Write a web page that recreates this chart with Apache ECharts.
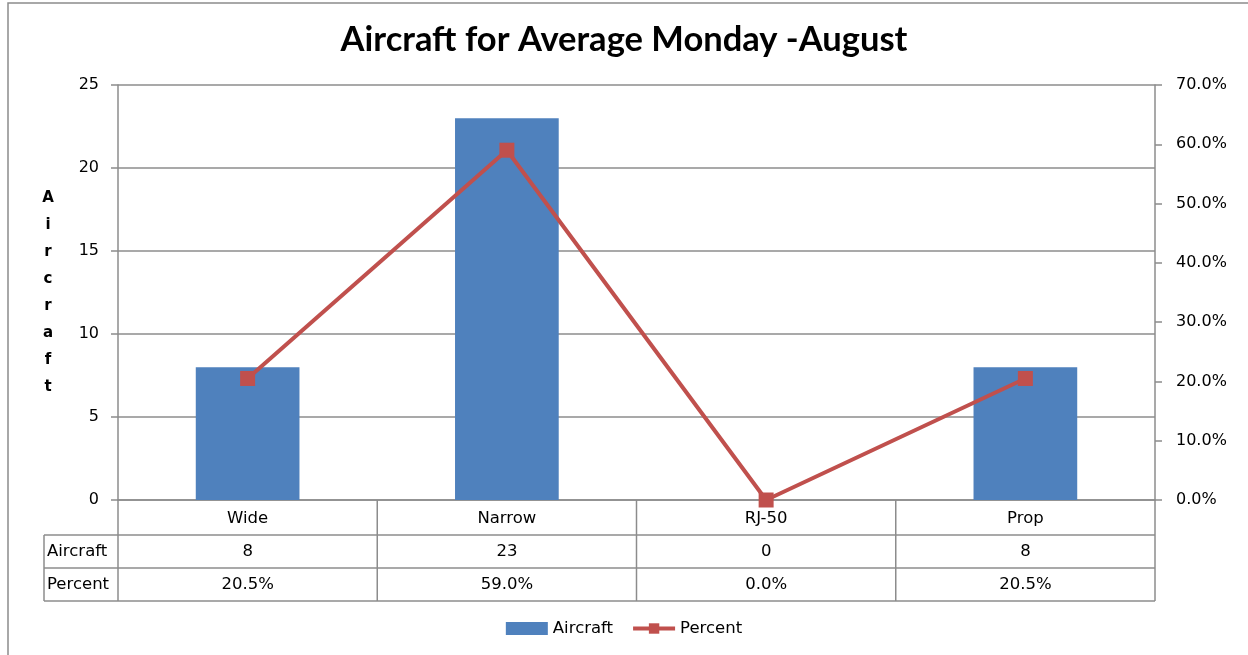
<!DOCTYPE html>
<html>
<head>
<meta charset="utf-8">
<script src="https://cdn.jsdelivr.net/npm/echarts@6/dist/echarts.min.js"></script>
<style>
html,body{margin:0;padding:0;background:#fff;}
#main{width:1248px;height:655px;}
</style>
</head>
<body>
<div id="main"></div>
<script>
const titleText = 'Aircraft for Average Monday -August';
const categories = ['Wide', 'Narrow', 'RJ-50', 'Prop'];
const aircraftValues = [8, 23, 0, 8];
const percentValues = [20.5, 59.0, 0.0, 20.5];
const leftTicks = { min: 0, max: 25, interval: 5 };
const rightTicks = { min: 0, max: 70, interval: 10 };

const FONT = 'DejaVu Sans';
const GRID = { left: 118, right: 93, top: 85, bottom: 155 };
const W = 1248, H = 655;
const plotL = GRID.left, plotR = W - GRID.right, plotB = H - GRID.bottom;
const rowH = [35, 33, 33];
const headL = 44;
const lineCol = '#8c8c8c';

const chart = echarts.init(document.getElementById('main'), null, { renderer: 'canvas' });

const option = {
  animation: false,
  backgroundColor: '#fff',
  title: {
    text: titleText,
    left: 'center',
    top: 17,
    textStyle: { fontFamily: 'Lato', fontWeight: 'bold', fontSize: 34.5, color: '#000' }
  },
  grid: GRID,
  legend: {
    bottom: 13,
    left: 'center',
    itemGap: 18,
    textStyle: { fontFamily: FONT, fontSize: 16.5, color: '#000' },
    data: [
      { name: 'Aircraft', icon: 'rect', itemStyle: { color: '#4F81BD' } },
      { name: 'Percent', lineStyle: { width: 4, color: '#C0504D' }, itemStyle: { color: '#C0504D' } }
    ],
    itemWidth: 42,
    itemHeight: 13
  },
  xAxis: {
    type: 'category',
    data: categories,
    boundaryGap: true,
    axisLine: { show: true, lineStyle: { color: lineCol, width: 1.5 } },
    axisTick: { show: false },
    axisLabel: { fontFamily: FONT, fontSize: 16.5, color: '#000', margin: 10 }
  },
  yAxis: [
    {
      type: 'value',
      min: leftTicks.min, max: leftTicks.max, interval: leftTicks.interval,
      name: 'A\ni\nr\nc\nr\na\nf\nt',
      nameLocation: 'middle',
      nameRotate: 0,
      nameGap: 70,
      nameTextStyle: { fontFamily: FONT, fontWeight: 'bold', fontSize: 15, color: '#000', lineHeight: 27, align: 'center', verticalAlign: 'middle' },
      axisLine: { show: true, lineStyle: { color: lineCol, width: 1.5 } },
      axisTick: { show: true, length: 7, lineStyle: { color: lineCol, width: 1.5 } },
      axisLabel: { fontFamily: FONT, fontSize: 16, color: '#000', margin: 19 },
      splitLine: { show: true, lineStyle: { color: lineCol, width: 1.5 } }
    },
    {
      type: 'value',
      position: 'right',
      min: rightTicks.min, max: rightTicks.max, interval: rightTicks.interval,
      axisLine: { show: true, lineStyle: { color: lineCol, width: 1.5 } },
      axisTick: { show: true, length: 7, lineStyle: { color: lineCol, width: 1.5 } },
      axisLabel: { fontFamily: FONT, fontSize: 16, color: '#000', margin: 21, formatter: v => v.toFixed(1) + '%' },
      splitLine: { show: false }
    }
  ],
  series: [
    {
      name: 'Aircraft',
      type: 'bar',
      data: aircraftValues,
      barWidth: '40%',
      yAxisIndex: 0,
      itemStyle: { color: '#4F81BD' },
      z: 2
    },
    {
      name: 'Percent',
      type: 'line',
      data: percentValues,
      yAxisIndex: 1,
      symbol: 'rect',
      symbolSize: 15,
      lineStyle: { color: '#C0504D', width: 4 },
      itemStyle: { color: '#C0504D' },
      z: 3
    }
  ]
};
chart.setOption(option);

// Data table drawn beneath the category axis
function buildTable() {
  const els = [];
  const y0 = plotB, y1 = y0 + rowH[0], y2 = y1 + rowH[1], y3 = y2 + rowH[2];
  const ls = { stroke: lineCol, lineWidth: 1.5 };
  const hline = (x1, x2, y) => els.push({ type: 'line', shape: { x1, y1: y, x2, y2: y }, style: ls, silent: true });
  const vline = (x, ya, yb) => els.push({ type: 'line', shape: { x1: x, y1: ya, x2: x, y2: yb }, style: ls, silent: true });
  hline(headL, plotR, y1);
  hline(headL, plotR, y2);
  hline(headL, plotR, y3);
  vline(headL, y1, y3);
  vline(plotL, y0, y3);
  vline(plotR, y0, y3);
  const step = (plotR - plotL) / categories.length;
  for (let i = 1; i < categories.length; i++) vline(plotL + step * i, y0, y3);
  const txt = (x, y, t, align) => els.push({
    type: 'text', x, y, silent: true,
    style: { text: t, fill: '#000', font: '16.5px "' + FONT + '"', textAlign: align || 'center', textVerticalAlign: 'middle' }
  });
  txt(headL + 3, (y1 + y2) / 2, 'Aircraft', 'left');
  txt(headL + 3, (y2 + y3) / 2, 'Percent', 'left');
  categories.forEach((c, i) => {
    const x = chart.convertToPixel({ xAxisIndex: 0 }, c);
    txt(x, (y1 + y2) / 2, String(aircraftValues[i]));
    txt(x, (y2 + y3) / 2, percentValues[i].toFixed(1) + '%');
  });
  // outer chart border
  els.push({ type: 'rect', shape: { x: 8, y: 3, width: 1260, height: 680 }, style: { fill: 'none', stroke: '#8c8c8c', lineWidth: 1.5 }, silent: true });
  chart.setOption({ graphic: els });
}
buildTable();
</script>
</body>
</html>
